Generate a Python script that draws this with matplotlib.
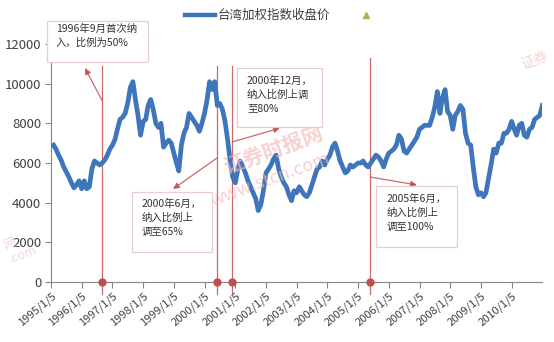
import numpy as np
import pandas as pd
import matplotlib
matplotlib.use("Agg")
import matplotlib.pyplot as plt
from matplotlib.lines import Line2D
from matplotlib.patches import Rectangle

plt.rcParams["font.family"] = ["Noto Sans CJK SC", "DejaVu Sans"]

# monthly closing levels of the Taiwan weighted index
years = list(range(1995, 2011))
close = {
    1995: [6900, 6700, 6400, 6150, 5800, 5550, 5300, 5000, 4750, 4900, 5100, 4700],
    1996: [5100, 4700, 4800, 5700, 6100, 6000, 5900, 6000, 6150, 6400, 6700, 6900],
    1997: [7200, 7700, 8200, 8300, 8500, 9000, 9800, 10100, 9200, 8400, 7400, 8100],
    1998: [8200, 8900, 9200, 8700, 8000, 7800, 8000, 6800, 7000, 7150, 7000, 6500],
    1999: [6000, 5600, 6900, 7500, 7800, 8500, 8300, 8100, 7900, 7600, 8000, 8500],
    2000: [9200, 10100, 9700, 10100, 8900, 9000, 8700, 8100, 7200, 6100, 5300, 5000],
    2001: [5700, 6100, 5800, 5500, 5100, 4800, 4500, 4200, 3600, 3900, 4600, 5500],
    2002: [5700, 5900, 6200, 6400, 5700, 5300, 5000, 4800, 4400, 4100, 4600, 4500],
    2003: [4800, 4600, 4400, 4300, 4500, 4900, 5300, 5700, 5800, 6100, 5900, 6200],
    2004: [6400, 6800, 7000, 6600, 6100, 5800, 5500, 5600, 5900, 5800, 5900, 6000],
    2005: [6000, 6100, 5900, 5800, 6000, 6200, 6400, 6300, 6100, 5800, 6200, 6500],
    2006: [6600, 6700, 6900, 7400, 7200, 6600, 6500, 6700, 6900, 7100, 7300, 7700],
    2007: [7800, 7900, 7900, 7900, 8300, 8800, 9600, 8500, 9300, 9700, 8600, 8400],
    2008: [7700, 8400, 8600, 8900, 8700, 7500, 7000, 6900, 5800, 4800, 4400, 4500],
    2009: [4300, 4500, 5200, 5900, 6700, 6500, 7000, 7000, 7500, 7500, 7700, 8100],
    2010: [7700, 7400, 7900, 8000, 7400, 7300, 7700, 7800, 8200, 8300, 8400, 8900],
}

tick_labels = ["%d/1/5" % y for y in years]
event_dates = ["1996-09-01", "2000-06-01", "2000-12-01", "2005-06-01"]
event_tops = [10900, 10900, 10900, 11300]
event_arrow_y = [9170, 6250, 7060, 5290]
event_texts = [
    "1996年9月首次纳\n入，比例为50%",
    "2000年6月，\n纳入比例上\n调至65%",
    "2000年12月，\n纳入比例上调\n至80%",
    "2005年6月，\n纳入比例上\n调至100%",
]

dates = pd.date_range("1995-01-05", periods=len(years) * 12, freq="MS") + pd.Timedelta(days=4)
values = np.concatenate([close[y] for y in years])

W, H = 554, 342
fig = plt.figure(figsize=(W / 100, H / 100), dpi=100)
ax = fig.add_axes([51 / W, 1 - 282 / H, (542 - 51) / W, (282 - 44) / H])

blue = "#3f76bb"
red = "#c0504d"
grey = "#868686"

# watermark
wm = "#f4b8b8"
fig.text(273 / W, 1 - 150 / H, "证券时报网", color=wm, fontsize=15, rotation=20,
         ha="center", va="center", alpha=0.65, fontweight="bold", zorder=0)
fig.text(270 / W, 1 - 180 / H, "www.stcn.com", color=wm, fontsize=13, rotation=20,
         ha="center", va="center", alpha=0.65, zorder=0)
fig.text(2 / W, 1 - 248 / H, "网\n.com", color=wm, fontsize=9, rotation=20,
         ha="left", va="center", alpha=0.6)
fig.text(550 / W, 1 - 60 / H, "证券", color=wm, fontsize=10, rotation=20,
         ha="right", va="center", alpha=0.6)

ax.plot(dates, values, color=blue, lw=3.4, solid_joinstyle="round", zorder=3)

ev = pd.to_datetime(event_dates)
for d, top in zip(ev, event_tops):
    ax.plot([d, d], [-600, top], color=red, lw=0.9, alpha=0.85, clip_on=False, zorder=2)
ax.plot(ev, [0] * len(ev), "o", color=red, ms=5, clip_on=False, zorder=4)

ax.set_ylim(0, 12000)
ax.set_yticks(range(0, 12001, 2000))
ax.set_xlim(pd.Timestamp("1995-01-05"), pd.Timestamp("2011-01-01"))
ax.set_xticks(pd.to_datetime(["%d-01-05" % y for y in years]))
ax.set_xticklabels(tick_labels, rotation=40, ha="right", rotation_mode="anchor", fontsize=8,
                   color="#404040")
for lab in ax.get_yticklabels():
    lab.set_fontsize(9.5)
    lab.set_color("#404040")
ax.tick_params(axis="x", length=4, color=grey, pad=2)
ax.tick_params(axis="y", length=4, color=grey, pad=3)
for s in ["top", "right"]:
    ax.spines[s].set_visible(False)
for s in ["left", "bottom"]:
    ax.spines[s].set_color(grey)
    ax.spines[s].set_linewidth(0.8)

# annotation boxes (pixel positions: left, top, right, bottom)
boxes = [(47, 21, 148, 62), (132, 192, 212, 252), (237, 68, 322, 127), (376, 186, 457, 247)]
text_pos = [(56, 24), (142, 199), (247, 76), (387, 194)]
heads = [(85, 68), (173, 189), (280, 128), (417, 185)]
for (l, t, r, b), (tx, ty), (hx, hy), txt, d, ay in zip(boxes, text_pos, heads, event_texts,
                                                       ev, event_arrow_y):
    fig.add_artist(Rectangle((l / W, 1 - b / H), (r - l) / W, (b - t) / H,
                             transform=fig.transFigure, facecolor="white",
                             edgecolor="#e8cfcf", lw=0.9, zorder=5))
    fig.text(tx / W, 1 - ty / H, txt, fontsize=7.5, color="#333333", ha="left", va="top",
             linespacing=1.45, zorder=6)
    ax.annotate("", xy=(hx / W, 1 - hy / H), xycoords="figure fraction",
                xytext=(d, ay), textcoords="data",
                arrowprops=dict(arrowstyle="-|>", color=red, lw=0.9, alpha=0.85,
                                mutation_scale=9, shrinkA=0, shrinkB=0),
                annotation_clip=False, zorder=6)

# legend
fig.add_artist(Line2D([185 / W, 215 / W], [1 - 15 / H] * 2, color=blue, lw=3.2,
                      transform=fig.transFigure))
fig.text(218 / W, 1 - 15 / H, "台湾加权指数收盘价", fontsize=9, color="#404040",
         ha="left", va="center")
fig.add_artist(Line2D([366 / W], [1 - 15 / H], marker="^", color="#9bbb59", ms=5,
                      lw=0, transform=fig.transFigure))

fig.savefig("out.png", dpi=100)
